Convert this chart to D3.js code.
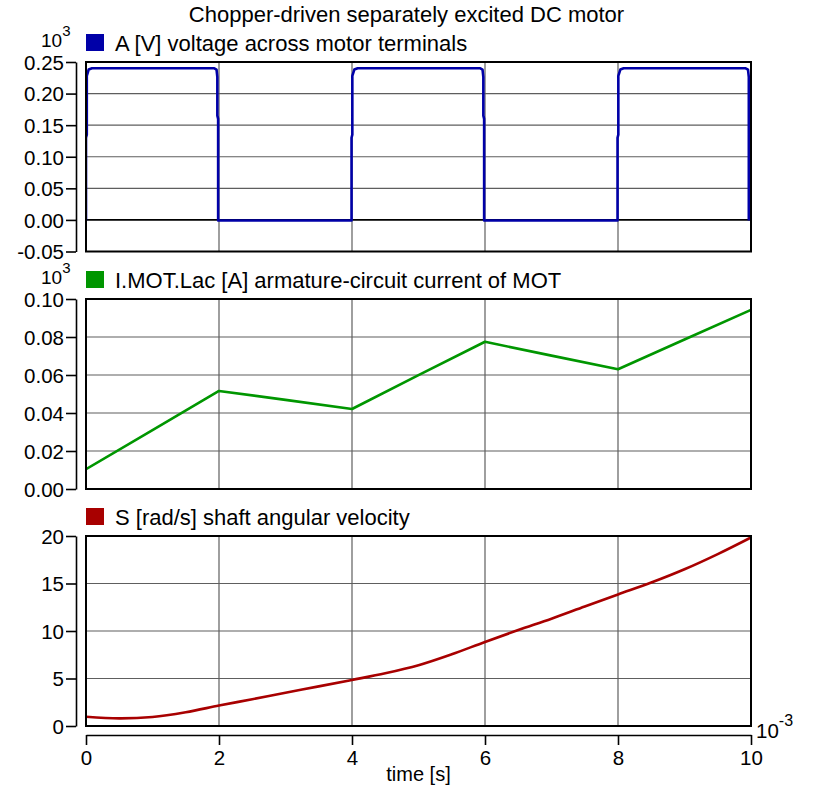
<!DOCTYPE html>
<html><head><meta charset="utf-8">
<script src="https://cdn.jsdelivr.net/npm/d3@7"></script>
<style>
html,body{margin:0;padding:0;background:#fff;}
svg text{font-family:"Liberation Sans",Arial,Helvetica,sans-serif;fill:#000;}
</style></head>
<body><svg id="chart" width="813" height="789"></svg>
<script>
// ---------- data ----------
const titleText = "Chopper-driven separately excited DC motor";
const timeTicks = [0, 2, 4, 6, 8, 10];
const timeLabel = "time [s]";

const voltTicks = [-0.05, 0, 0.05, 0.10, 0.15, 0.20, 0.25];
const voltT = [0, 0, 0.012, 0.012, 0.04, 0.09, 1.93, 1.963, 1.975, 1.975, 1.987, 1.987,
               3.993, 3.993, 4.005, 4.005, 4.035, 4.085, 5.93, 5.963, 5.975, 5.975, 5.987, 5.987,
               7.993, 7.993, 8.005, 8.005, 8.035, 8.085, 9.92, 9.955, 9.967, 9.967];
const voltV = [-0.001, 0.13, 0.135, 0.228, 0.238, 0.24, 0.24, 0.238, 0.226, 0.165, 0.16, -0.001,
               -0.001, 0.13, 0.135, 0.228, 0.238, 0.24, 0.24, 0.238, 0.226, 0.165, 0.16, -0.001,
               -0.001, 0.13, 0.135, 0.228, 0.238, 0.24, 0.24, 0.238, 0.226, -0.001];

const currTicks = [0, 0.02, 0.04, 0.06, 0.08, 0.10];
const currT = [0, 1, 2, 3, 4, 5, 6, 7, 8, 9, 10];
const currV = [0.0104, 0.0310, 0.0516, 0.0469, 0.0421, 0.0599, 0.0775, 0.0702, 0.0630, 0.0787, 0.0943];

const speedTicks = [0, 5, 10, 15, 20];
const speedT = [0, 0.5, 1, 1.5, 2, 2.5, 3, 3.5, 4, 4.5, 5, 5.5, 6, 6.5, 7, 7.5, 8, 8.5, 9, 9.5, 10];
const speedV = [0.98, 0.8, 0.95, 1.45, 2.15, 2.82, 3.5, 4.17, 4.85, 5.55, 6.4, 7.55, 8.85, 10.1, 11.3, 12.58, 13.85, 15.1, 16.5, 18.1, 19.85];

const legendLabels = ["A [V] voltage across motor terminals",
                      "I.MOT.Lac [A] armature-circuit current of MOT",
                      "S [rad/s] shaft angular velocity"];
const seriesColors = ["#0000a8", "#009600", "#a80000"];

// ---------- layout ----------
const svg = d3.select("#chart");
const X0 = 86, X1 = 751;
const x = d3.scaleLinear().domain([0, 10]).range([X0, X1]);

const panels = [
  {domain: [-0.05, 0.25], range: [251.5, 62], ticks: voltTicks, fmt: d => d.toFixed(2), T: voltT, V: voltV, mult: true, zero: true, curve: d3.curveLinear},
  {domain: [0, 0.10], range: [489, 299], ticks: currTicks, fmt: d => d.toFixed(2), T: currT, V: currV, mult: true, zero: false, curve: d3.curveLinear},
  {domain: [0, 20], range: [726, 536], ticks: speedTicks, fmt: d => String(d), T: speedT, V: speedV, mult: false, zero: false, curve: d3.curveCatmullRom.alpha(0.5)}
];

const FS = 20.5;

svg.append("text").attr("x", 406.5).attr("y", 22).attr("text-anchor", "middle")
  .style("font-size", "22px").text(titleText);

panels.forEach((p, i) => {
  const y = d3.scaleLinear().domain(p.domain).range(p.range);
  const top = p.range[1], bot = p.range[0];
  const g = svg.append("g");

  // grid
  g.selectAll("line.h").data(p.ticks).join("line")
    .attr("x1", X0).attr("x2", X1)
    .attr("y1", d => y(d)).attr("y2", d => y(d))
    .attr("stroke", d => (p.zero && d === 0) ? "#000" : "#5e5e5e")
    .attr("stroke-width", d => (p.zero && d === 0) ? 1.8 : 1.2);
  g.selectAll("line.v").data(timeTicks.slice(1, -1)).join("line")
    .attr("x1", d => x(d)).attr("x2", d => x(d))
    .attr("y1", top).attr("y2", bot)
    .attr("stroke", "#5e5e5e").attr("stroke-width", 1.2);

  // clip
  const cid = "clip" + i;
  svg.append("clipPath").attr("id", cid).append("rect")
    .attr("x", X0).attr("y", top - 2).attr("width", X1 - X0).attr("height", bot - top + 4);

  // series line
  const pts = p.T.map((t, k) => [t, p.V[k]]);
  g.append("path").datum(pts)
    .attr("clip-path", `url(#${cid})`)
    .attr("fill", "none").attr("stroke", seriesColors[i]).attr("stroke-width", 2.6)
    .attr("stroke-linejoin", "round")
    .attr("d", d3.line().x(d => x(d[0])).y(d => y(d[1])).curve(p.curve));

  // frame
  g.append("rect").attr("x", X0).attr("y", top).attr("width", X1 - X0).attr("height", bot - top)
    .attr("fill", "none").attr("stroke", "#000").attr("stroke-width", 2);

  // y axis
  const ax = svg.append("g").attr("transform", "translate(76,0)")
    .call(d3.axisLeft(y).tickValues(p.ticks).tickFormat(p.fmt).tickSizeInner(10).tickSizeOuter(0).tickPadding(2));
  ax.select(".domain").attr("stroke", "#000").attr("stroke-width", 1.6);
  ax.selectAll(".tick line").attr("stroke", "#000").attr("stroke-width", 1.6);
  ax.selectAll(".tick text").style("font-size", FS + "px").attr("dy", "0.36em")
    .style("font-family", "'Liberation Sans',Arial,sans-serif");

  // multiplier 10^3
  if (p.mult) {
    const t = svg.append("text").attr("x", 41).attr("y", top - 15).style("font-size", "19px");
    t.append("tspan").text("10");
    t.append("tspan").attr("dy", -11).style("font-size", "15px").text("3");
  }

  // legend
  svg.append("rect").attr("x", 86).attr("y", top - 28).attr("width", 18).attr("height", 17)
    .attr("fill", seriesColors[i]);
  svg.append("text").attr("x", 115).attr("y", top - 11).style("font-size", "22px").text(legendLabels[i]);
});

// x axis
const xa = svg.append("g").attr("transform", "translate(0,735)")
  .call(d3.axisBottom(x).tickValues(timeTicks).tickFormat(d => String(d)).tickSizeInner(10).tickSizeOuter(0).tickPadding(5));
xa.select(".domain").attr("stroke", "#000").attr("stroke-width", 1.6);
xa.selectAll(".tick line").attr("stroke", "#000").attr("stroke-width", 1.6);
xa.selectAll(".tick text").style("font-size", FS + "px")
  .style("font-family", "'Liberation Sans',Arial,sans-serif");

const xm = svg.append("text").attr("x", 756).attr("y", 738).style("font-size", FS + "px");
xm.append("tspan").text("10");
xm.append("tspan").attr("dy", -12).style("font-size", "16px").text("-3");

svg.append("text").attr("x", 418.5).attr("y", 781).attr("text-anchor", "middle")
  .style("font-size", "20px").text(timeLabel);
</script></body></html>
